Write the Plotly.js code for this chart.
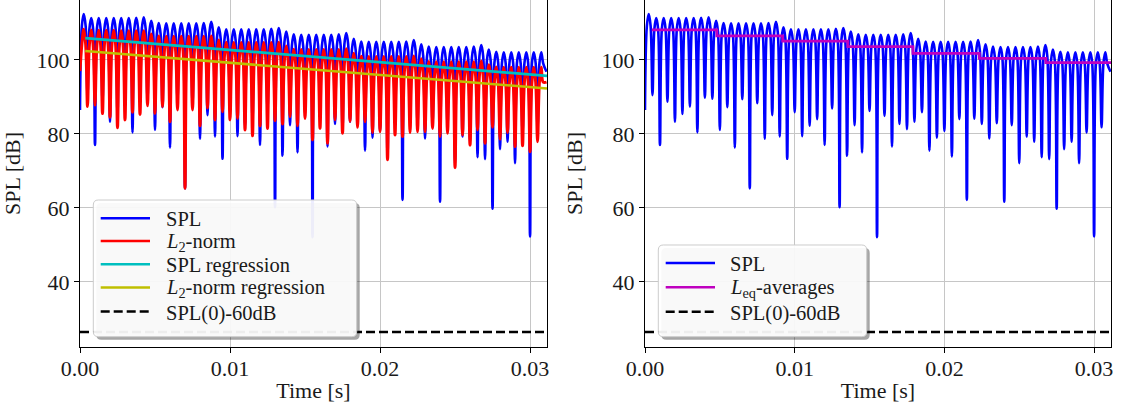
<!DOCTYPE html>
<html>
<head>
<meta charset="utf-8">
<script src="https://cdn.plot.ly/plotly-3.0.1.min.js"></script>
<style>
html, body { margin: 0; padding: 0; background: #ffffff; }
#chart { width: 1121px; height: 412px; }
</style>
</head>
<body>
<div id="chart"></div>
<script>
// ---------------- data ----------------
// sample times [s]: start, then per hump: left shoulder, top, right shoulder, next dip; last entry is the right edge
const sampleTime = [
  0, 0.000125, 0.00025, 0.000375, 0.0005, 0.000625, 0.00075, 0.000875,
  0.001, 0.001125, 0.00125, 0.001375, 0.0015, 0.001625, 0.00175, 0.001875,
  0.002, 0.002125, 0.00225, 0.002375, 0.0025, 0.002625, 0.00275, 0.002875,
  0.003, 0.003125, 0.00325, 0.003375, 0.0035, 0.003625, 0.00375, 0.003875,
  0.004, 0.004125, 0.00425, 0.004375, 0.0045, 0.004625, 0.00475, 0.004875,
  0.005, 0.005125, 0.00525, 0.005375, 0.0055, 0.005625, 0.00575, 0.005875,
  0.006, 0.006125, 0.00625, 0.006375, 0.0065, 0.006625, 0.00675, 0.006875,
  0.007, 0.007125, 0.00725, 0.007375, 0.0075, 0.007625, 0.00775, 0.007875,
  0.008, 0.008125, 0.00825, 0.008375, 0.0085, 0.008625, 0.00875, 0.008875,
  0.009, 0.009125, 0.00925, 0.009375, 0.0095, 0.009625, 0.00975, 0.009875,
  0.010, 0.010125, 0.01025, 0.010375, 0.0105, 0.010625, 0.01075, 0.010875,
  0.011, 0.011125, 0.01125, 0.011375, 0.0115, 0.011625, 0.01175, 0.011875,
  0.012, 0.012125, 0.01225, 0.012375, 0.0125, 0.012625, 0.01275, 0.012875,
  0.013, 0.013125, 0.01325, 0.013375, 0.0135, 0.013625, 0.01375, 0.013875,
  0.014, 0.014125, 0.01425, 0.014375, 0.0145, 0.014625, 0.01475, 0.014875,
  0.015, 0.015125, 0.01525, 0.015375, 0.0155, 0.015625, 0.01575, 0.015875,
  0.016, 0.016125, 0.01625, 0.016375, 0.0165, 0.016625, 0.01675, 0.016875,
  0.017, 0.017125, 0.01725, 0.017375, 0.0175, 0.017625, 0.01775, 0.017875,
  0.018, 0.018125, 0.01825, 0.018375, 0.0185, 0.018625, 0.01875, 0.018875,
  0.019, 0.019125, 0.01925, 0.019375, 0.0195, 0.019625, 0.01975, 0.019875,
  0.020, 0.020125, 0.02025, 0.020375, 0.0205, 0.020625, 0.02075, 0.020875,
  0.021, 0.021125, 0.02125, 0.021375, 0.0215, 0.021625, 0.02175, 0.021875,
  0.022, 0.022125, 0.02225, 0.022375, 0.0225, 0.022625, 0.02275, 0.022875,
  0.023, 0.023125, 0.02325, 0.023375, 0.0235, 0.023625, 0.02375, 0.023875,
  0.024, 0.024125, 0.02425, 0.024375, 0.0245, 0.024625, 0.02475, 0.024875,
  0.025, 0.025125, 0.02525, 0.025375, 0.0255, 0.025625, 0.02575, 0.025875,
  0.026, 0.026125, 0.02625, 0.026375, 0.0265, 0.026625, 0.02675, 0.026875,
  0.027, 0.027125, 0.02725, 0.027375, 0.0275, 0.027625, 0.02775, 0.027875,
  0.028, 0.028125, 0.02825, 0.028375, 0.0285, 0.028625, 0.02875, 0.028875,
  0.029, 0.029125, 0.02925, 0.029375, 0.0295, 0.029625, 0.02975, 0.029875,
  0.030, 0.030125, 0.03025, 0.030375, 0.0305, 0.030625, 0.03075, 0.030875,
  0.0311
];

// SPL [dB]: value at t = 0, hump tops, shoulder level of each hump, dip bottoms, value at the right edge
const splStart = 86.5;
const splPeaks = [
  112.4, 111.3, 111.3, 111.3, 111.3, 111.3, 111.3, 111.4, 111.5,
  110.6, 110.0, 109.9, 109.9, 109.9, 109.9, 109.9, 110.0, 110.3,
  108.8, 108.3, 108.3, 108.3, 108.3, 108.3, 108.3, 108.4, 108.6,
  107.7, 106.9, 106.8, 106.8, 106.8, 106.8, 106.8, 106.9, 107.3,
  105.7, 105.0, 104.9, 104.9, 104.9, 104.9, 104.9, 105.0, 105.4,
  104.2, 103.6, 103.5, 103.5, 103.5, 103.5, 103.5, 103.6, 104.0,
  102.8, 102.2, 102.1, 102.1, 102.1, 102.1, 102.1, 102.1
];
const splShoulders = [
  109.2, 108.3, 108.3, 108.3, 108.3, 108.3, 108.3, 108.4, 108.5,
  107.6, 107.0, 106.9, 106.9, 106.9, 106.9, 106.9, 107.0, 107.3,
  105.8, 105.3, 105.3, 105.3, 105.3, 105.3, 105.3, 105.4, 105.6,
  104.7, 103.9, 103.8, 103.8, 103.8, 103.8, 103.8, 103.9, 104.3,
  102.7, 102.0, 101.9, 101.9, 101.9, 101.9, 101.9, 102.0, 102.4,
  101.2, 100.6, 100.5, 100.5, 100.5, 100.5, 100.5, 100.6, 101.0,
  99.8, 99.2, 99.1, 99.1, 99.1, 99.1, 99.1, 99.1
];
const splDips = [
  90.5, 77.0, 88.7, 83.3, 85.4, 87.4, 80.4, 89.8, 89.5, 81.1,
  87.2, 76.3, 89.4, 65.3, 88.3, 78.7, 85.1, 79.3, 73.3, 85.9,
  79.4, 82.2, 84.0, 77.0, 86.9, 60.2, 74.1, 82.4, 75.0, 86.2,
  52.1, 84.9, 76.6, 82.7, 81.3, 83.3, 85.9, 75.5, 79.0, 80.8,
  73.9, 84.0, 62.2, 84.1, 82.7, 78.8, 82.9, 61.7, 82.4, 72.1,
  79.3, 77.9, 73.7, 73.2, 59.8, 75.9, 77.9, 72.1, 80.4, 52.3,
  81.8
];
const splEnd = 96.8;

// L2-norm [dB]
const l2Start = 97.0;
const l2Peaks = [
  108.3, 108.1, 108.0, 108.0, 108.0, 107.9, 107.9, 107.9, 107.9,
  107.0, 106.5, 106.4, 106.4, 106.4, 106.4, 106.4, 106.4, 106.5,
  105.4, 104.8, 104.7, 104.7, 104.7, 104.7, 104.7, 104.7, 104.8,
  103.8, 102.9, 102.8, 102.8, 102.8, 102.8, 102.8, 102.8, 103.0,
  101.8, 101.0, 100.9, 100.9, 100.9, 100.9, 100.9, 100.9, 101.1,
  100.3, 99.6, 99.5, 99.5, 99.5, 99.5, 99.5, 99.5, 99.7,
  98.7, 98.1, 98.0, 98.0, 98.0, 98.0, 98.0, 98.0
];
const l2Shoulders = [
  104.3, 104.1, 104.0, 104.0, 104.0, 103.9, 103.9, 103.9, 103.9,
  103.0, 102.5, 102.4, 102.4, 102.4, 102.4, 102.4, 102.4, 102.5,
  101.4, 100.8, 100.7, 100.7, 100.7, 100.7, 100.7, 100.7, 100.8,
  99.8, 98.9, 98.8, 98.8, 98.8, 98.8, 98.8, 98.8, 99.0,
  97.8, 97.0, 96.9, 96.9, 96.9, 96.9, 96.9, 96.9, 97.1,
  96.3, 95.6, 95.5, 95.5, 95.5, 95.5, 95.5, 95.5, 95.7,
  94.7, 94.1, 94.0, 94.0, 94.0, 94.0, 94.0, 94.0
];
const l2Dips = [
  87.4, 87.8, 85.5, 84.5, 81.7, 83.8, 85.9, 85.3, 87.6, 85.6,
  87.4, 83.3, 86.5, 65.3, 86.5, 82.2, 87.0, 83.8, 86.0, 83.8,
  84.2, 81.1, 79.5, 82.2, 81.5, 83.6, 82.7, 84.7, 82.2, 84.2,
  78.4, 81.5, 77.5, 83.8, 80.2, 83.4, 81.8, 83.3, 80.4, 80.6,
  73.0, 79.7, 79.3, 80.4, 80.6, 80.6, 81.5, 79.3, 80.2, 70.9,
  79.7, 77.0, 81.1, 77.5, 81.8, 78.6, 80.4, 76.6, 76.8, 75.2,
  77.9
];
const l2End = 94.0;

// regression lines
const regressionTime = [0.00035, 0.03113];
const splRegression = [105.9, 95.7];
const l2Regression = [102.4, 92.3];

// Leq averages (step edges and levels)
const leqEdges = [0.00045, 0.0048, 0.0092, 0.01355, 0.0179, 0.02233, 0.02678, 0.03113];
const leqLevels = [108.1, 106.5, 105.1, 103.6, 101.8, 100.4, 99.3, 99.3];

// SPL(0) - 60 dB
const thresholdTime = [0, 0.03113];
const spl0Minus60 = 26.5;

// axes
const xRange = [0, 0.03113];
const yRange = [22.43, 116.2];
const xTicks = [0, 0.01, 0.02, 0.03];
const xTickText = ['0.00', '0.01', '0.02', '0.03'];
const yTicks = [40, 60, 80, 100];
const yTickText = ['40', '60', '80', '100'];

// ---------------- build series ----------------
// order per hump: left shoulder, top, right shoulder, following dip (the right edge value after the last hump)
function buildSeries(start, peaks, shoulders, dips, end) {
  const out = [start];
  for (let i = 0; i < peaks.length; i++) {
    out.push(shoulders[i], peaks[i], shoulders[i]);
    out.push(i < dips.length ? dips[i] : end);
  }
  return out;
}
const splSeries = buildSeries(splStart, splPeaks, splShoulders, splDips, splEnd);
const l2Series = buildSeries(l2Start, l2Peaks, l2Shoulders, l2Dips, l2End);
const thresholdSeries = thresholdTime.map(() => spl0Minus60);

const FONT = 'Liberation Serif, DejaVu Serif, serif';
const TXT = '#1a1a1a';
const BLUE = '#0000ff', RED = '#ff0000', CYAN = '#00bfbf', YELLOW = '#bfbf00', MAGENTA = '#bf00bf';

const traces = [
  {x: sampleTime, y: splSeries, xaxis: 'x', yaxis: 'y', type: 'scatter', mode: 'lines', name: 'SPL',
   line: {color: BLUE, width: 2.6, shape: 'spline', smoothing: 1}},
  {x: sampleTime, y: l2Series, xaxis: 'x', yaxis: 'y', type: 'scatter', mode: 'lines', name: 'L2-norm',
   line: {color: RED, width: 3, shape: 'spline', smoothing: 1}},
  {x: regressionTime, y: splRegression, xaxis: 'x', yaxis: 'y', type: 'scatter', mode: 'lines', name: 'SPL regression',
   line: {color: CYAN, width: 2.6}},
  {x: regressionTime, y: l2Regression, xaxis: 'x', yaxis: 'y', type: 'scatter', mode: 'lines', name: 'L2-norm regression',
   line: {color: YELLOW, width: 2.6}},
  {x: thresholdTime, y: thresholdSeries, xaxis: 'x', yaxis: 'y', type: 'scatter', mode: 'lines', name: 'SPL(0)-60dB',
   line: {color: '#000', width: 2.6, dash: '9px,4px'}},

  {x: sampleTime, y: splSeries, xaxis: 'x2', yaxis: 'y2', type: 'scatter', mode: 'lines', name: 'SPL',
   line: {color: BLUE, width: 2.6, shape: 'spline', smoothing: 1}},
  {x: leqEdges, y: leqLevels, xaxis: 'x2', yaxis: 'y2', type: 'scatter', mode: 'lines', name: 'Leq-averages',
   line: {color: MAGENTA, width: 2.8, shape: 'hv'}},
  {x: thresholdTime, y: thresholdSeries, xaxis: 'x2', yaxis: 'y2', type: 'scatter', mode: 'lines', name: 'SPL(0)-60dB',
   line: {color: '#000', width: 2.6, dash: '9px,4px'}}
];

// ---------------- layout ----------------
const ML = 80, MR = 10, MT = 0, MB = 65, W = 1121, H = 412;
const PW = W - ML - MR, PH = H - MT - MB;
const px = v => (v - ML) / PW;         // pixel x -> paper
const py = v => (H - MB - v) / PH;     // pixel y -> paper

const axisCommon = {
  showline: true, mirror: true, linecolor: '#000', linewidth: 1,
  ticks: 'outside', ticklen: 5, tickwidth: 1, tickcolor: '#000',
  showgrid: true, gridcolor: '#c6c6c6', gridwidth: 1, zeroline: false,
  tickfont: {family: FONT, size: 22, color: TXT}
};
const xAxisBase = Object.assign({}, axisCommon, {
  range: xRange, tickmode: 'array', tickvals: xTicks, ticktext: xTickText,
  ticklabelstandoff: -3,
  title: {text: 'Time [s]', font: {family: FONT, size: 22, color: TXT}, standoff: 2}
});
const yAxisBase = Object.assign({}, axisCommon, {
  range: yRange, tickmode: 'array', tickvals: yTicks, ticktext: yTickText,
  title: {text: 'SPL [dB]', font: {family: FONT, size: 22, color: TXT}, standoff: 12}
});

function roundRect(x1, y1, x2, y2, r) {
  // pixel box -> paper path with rounded corners
  const X = v => px(v).toFixed(5), Y = v => py(v).toFixed(5);
  return 'M' + X(x1 + r) + ',' + Y(y1) +
    ' L' + X(x2 - r) + ',' + Y(y1) + ' Q' + X(x2) + ',' + Y(y1) + ' ' + X(x2) + ',' + Y(y1 + r) +
    ' L' + X(x2) + ',' + Y(y2 - r) + ' Q' + X(x2) + ',' + Y(y2) + ' ' + X(x2 - r) + ',' + Y(y2) +
    ' L' + X(x1 + r) + ',' + Y(y2) + ' Q' + X(x1) + ',' + Y(y2) + ' ' + X(x1) + ',' + Y(y2 - r) +
    ' L' + X(x1) + ',' + Y(y1 + r) + ' Q' + X(x1) + ',' + Y(y1) + ' ' + X(x1 + r) + ',' + Y(y1) + ' Z';
}

function legendBox(x1, y1, x2, y2, rows, lineX1, lineX2, textX) {
  const shapes = [
    {type: 'path', xref: 'paper', yref: 'paper', layer: 'above', path: roundRect(x1 + 3, y1 + 3, x2 + 3, y2 + 3, 5),
     fillcolor: 'rgba(0,0,0,0.35)', line: {width: 0}},
    {type: 'path', xref: 'paper', yref: 'paper', layer: 'above', path: roundRect(x1, y1, x2, y2, 5),
     fillcolor: 'rgba(255,255,255,0.93)', line: {color: '#cccccc', width: 1}}
  ];
  const annotations = [];
  rows.forEach(r => {
    shapes.push({type: 'line', xref: 'paper', yref: 'paper', layer: 'above',
      x0: px(lineX1), x1: px(lineX2), y0: py(r.y), y1: py(r.y),
      line: {color: r.color, width: 2.6, dash: r.dash || 'solid'}});
    annotations.push({xref: 'paper', yref: 'paper', x: px(textX), y: py(r.y + (r.ty || 1)), xanchor: 'left', yanchor: 'middle',
      align: 'left', borderpad: 0, text: r.text, showarrow: false, font: {family: FONT, size: 20.5, color: TXT}});
  });
  return {shapes, annotations};
}

const leftLegend = legendBox(93.3, 200, 356.7, 336.7, [
  {y: 218.3, color: BLUE, text: 'SPL'},
  {y: 241.0, ty: 0, color: RED, text: '<i>L</i><sub>2</sub>-norm'},
  {y: 264.3, ty: 1.5, color: CYAN, text: 'SPL regression'},
  {y: 287.5, ty: 0, color: YELLOW, text: '<i>L</i><sub>2</sub>-norm regression'},
  {y: 311.5, ty: 1.5, color: '#000', dash: '9px,4px', text: 'SPL(0)-60dB'}
], 100.7, 150, 165);

const rightLegend = legendBox(658.3, 245, 866.7, 336.7, [
  {y: 263.0, color: BLUE, text: 'SPL'},
  {y: 287.3, ty: 0, color: MAGENTA, text: '<i>L</i><sub>eq</sub>-averages'},
  {y: 311.7, ty: 1.5, color: '#000', dash: '9px,4px', text: 'SPL(0)-60dB'}
], 665.7, 715, 729);

const layout = {
  width: W, height: H,
  margin: {l: ML, r: MR, t: MT, b: MB, pad: 0},
  paper_bgcolor: '#ffffff', plot_bgcolor: '#ffffff',
  showlegend: false,
  font: {family: FONT, size: 22, color: TXT},
  xaxis: Object.assign({}, xAxisBase, {domain: [0, px(547)], anchor: 'y'}),
  yaxis: Object.assign({}, yAxisBase, {anchor: 'x'}),
  xaxis2: Object.assign({}, xAxisBase, {domain: [px(645), 1], anchor: 'y2'}),
  yaxis2: Object.assign({}, yAxisBase, {anchor: 'x2'}),
  shapes: leftLegend.shapes.concat(rightLegend.shapes),
  annotations: leftLegend.annotations.concat(rightLegend.annotations)
};

Plotly.newPlot('chart', traces, layout, {displayModeBar: false, staticPlot: true});
</script>
</body>
</html>
